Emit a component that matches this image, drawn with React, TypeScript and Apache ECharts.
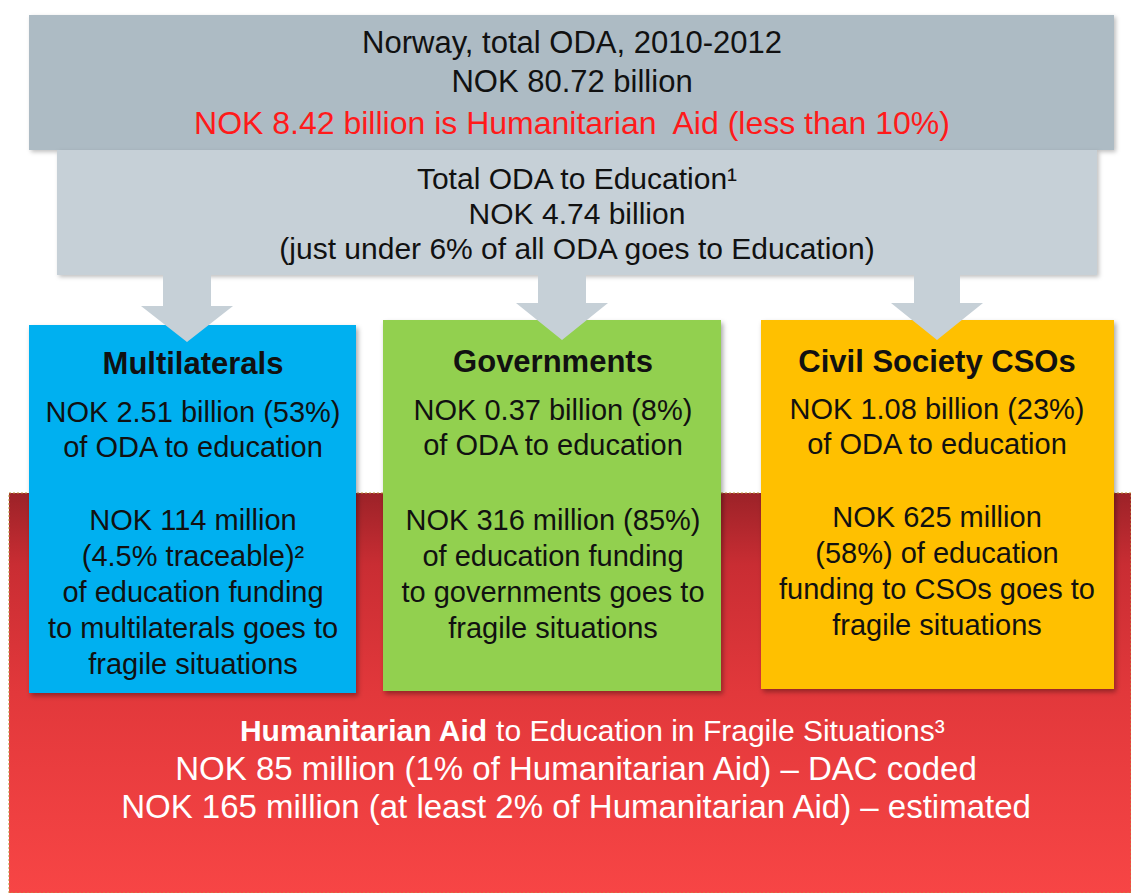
import React, { useEffect, useRef } from "react";
import * as echarts from "echarts";

// ---- content ----
const headerLines = ["Norway, total ODA, 2010-2012", "NOK 80.72 billion"];
const humanitarianLine = "NOK 8.42 billion is Humanitarian  Aid (less than 10%)";
const educationLines = [
  "Total ODA to Education¹",
  "NOK 4.74 billion",
  "(just under 6% of all ODA goes to Education)",
];
const channels = ["Multilaterals", "Governments", "Civil Society CSOs"];
const channelShareLines = [
  ["NOK 2.51 billion (53%)", "of ODA to education"],
  ["NOK 0.37 billion (8%)", "of ODA to education"],
  ["NOK 1.08 billion (23%)", "of ODA to education"],
];
const channelFragileLines = [
  ["NOK 114 million", "(4.5% traceable)²", "of education funding", "to multilaterals goes to", "fragile situations"],
  ["NOK 316 million (85%)", "of education funding", "to governments goes to", "fragile situations"],
  ["NOK 625 million", "(58%) of education", "funding to CSOs goes to", "fragile situations"],
];
const bottomTitleBold = "Humanitarian Aid";
const bottomTitleRest = " to Education in Fragile Situations³";
const bottomLines = [
  "NOK 85 million (1% of Humanitarian Aid) – DAC coded",
  "NOK 165 million (at least 2% of Humanitarian Aid) – estimated",
];

// ---- layout / style ----
const FONT = "Liberation Sans, Arial, Helvetica, sans-serif";
const boxColors = ["#00b0f0", "#92d050", "#ffc000"];
const boxRects = [
  { x: 29, y: 325, w: 327, h: 368, cx: 193, titleY: 363, shareY: 412, fragY: 520 },
  { x: 383, y: 320, w: 338, h: 371, cx: 553, titleY: 361, shareY: 410, fragY: 520 },
  { x: 761, y: 320, w: 353, h: 369, cx: 937, titleY: 361, shareY: 409, fragY: 517 },
];
const arrows = [
  { cx: 187, shaftHalf: 24, headHalf: 46, top: 275, headY: 306, tip: 342 },
  { cx: 562, shaftHalf: 24, headHalf: 46, top: 275, headY: 303, tip: 340 },
  { cx: 937, shaftHalf: 23, headHalf: 46, top: 275, headY: 303, tip: 340 },
];

function txt(text: string, x: number, y: number, size: number, fill: string, weight: string = "normal") {
  return {
    type: "text",
    x,
    y,
    style: {
      text,
      fontSize: size,
      fontFamily: FONT,
      fontWeight: weight,
      fill,
      align: "center",
      verticalAlign: "middle",
    },
  };
}

export default function App() {
  const ref = useRef<HTMLDivElement>(null);
  useEffect(() => {
    document.body.style.margin = "0";
    const chart = echarts.init(ref.current!, null, { renderer: "svg" });
    const g: any[] = [];

    // red background
    g.push({
      type: "rect",
      shape: { x: 9, y: 493, width: 1122, height: 400 },
      style: {
        fill: {
          type: "linear",
          x: 0, y: 0, x2: 0, y2: 1,
          colorStops: [
            { offset: 0, color: "#9c2228" },
            { offset: 0.18, color: "#c92d33" },
            { offset: 0.5, color: "#e2383b" },
            { offset: 1, color: "#f74545" },
          ],
        },
        stroke: "#b8943a",
        lineWidth: 1,
        lineDash: [2, 2],
      },
    });

    // top box
    g.push({
      type: "rect",
      shape: { x: 29, y: 15, width: 1085, height: 135 },
      style: { fill: "#adbbc4", shadowBlur: 4, shadowColor: "rgba(0,0,0,0.25)", shadowOffsetX: 2, shadowOffsetY: 2 },
    });
    // education box
    g.push({
      type: "rect",
      shape: { x: 57, y: 150, width: 1040, height: 125 },
      style: { fill: "#c6d0d7", shadowBlur: 4, shadowColor: "rgba(0,0,0,0.25)", shadowOffsetX: 2, shadowOffsetY: 2 },
    });

    // channel boxes
    boxRects.forEach((b, i) => {
      g.push({
        type: "rect",
        shape: { x: b.x, y: b.y, width: b.w, height: b.h },
        style: { fill: boxColors[i], shadowBlur: 5, shadowColor: "rgba(0,0,0,0.35)", shadowOffsetX: 2, shadowOffsetY: 3 },
      });
    });

    // arrows
    arrows.forEach((a) => {
      g.push({
        type: "polygon",
        shape: {
          points: [
            [a.cx - a.shaftHalf, a.top],
            [a.cx + a.shaftHalf, a.top],
            [a.cx + a.shaftHalf, a.headY],
            [a.cx + a.headHalf, a.headY],
            [a.cx, a.tip],
            [a.cx - a.headHalf, a.headY],
            [a.cx - a.shaftHalf, a.headY],
          ],
        },
        style: { fill: "#c6d0d7" },
      });
    });

    // header text
    const headerY = [42, 81];
    headerLines.forEach((t, i) => g.push(txt(t, 572, headerY[i], 31, "#111111")));
    g.push(txt(humanitarianLine, 572, 123, 32, "#ff1a1a"));

    // education text
    const eduY = [178, 213, 248];
    educationLines.forEach((t, i) => g.push(txt(t, 577, eduY[i], 30, "#111111")));

    // channel texts
    boxRects.forEach((b, i) => {
      g.push(txt(channels[i], b.cx, b.titleY, 31, "#111111", "bold"));
      channelShareLines[i].forEach((t, j) => g.push(txt(t, b.cx, b.shareY + j * 35, 29, "#111111")));
      channelFragileLines[i].forEach((t, j) => g.push(txt(t, b.cx, b.fragY + j * 36, 29, "#111111")));
    });

    // bottom text
    g.push({
      type: "text",
      x: 592,
      y: 730,
      style: {
        text: `{b|${bottomTitleBold}}{n|${bottomTitleRest}}`,
        align: "center",
        verticalAlign: "middle",
        rich: {
          b: { fontSize: 30, fontFamily: FONT, fontWeight: "bold", fill: "#ffffff" },
          n: { fontSize: 30, fontFamily: FONT, fill: "#ffffff" },
        },
      },
    });
    const botY = [768, 806];
    bottomLines.forEach((t, i) => g.push(txt(t, 576, botY[i], 33, "#ffffff")));

    chart.setOption({
      animation: false,
      backgroundColor: "#ffffff",
      graphic: { elements: g },
    });
    return () => chart.dispose();
  }, []);
  return <div ref={ref} style={{ width: 1131, height: 893 }} />;
}
